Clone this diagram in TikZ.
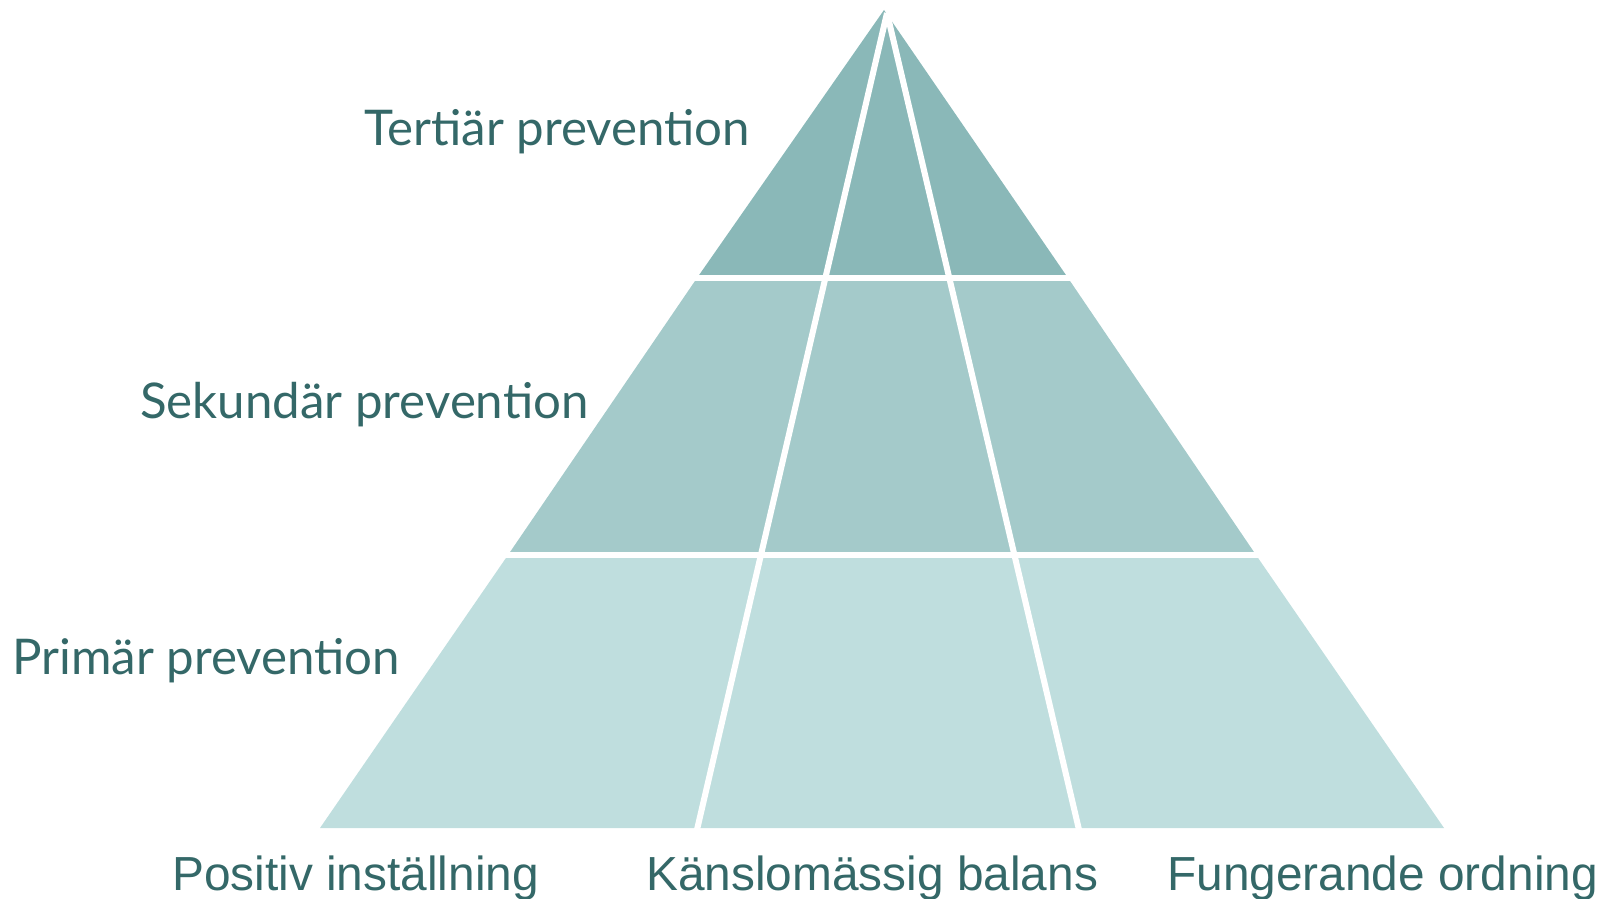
\documentclass[tikz,border=0pt]{standalone}
\usepackage{fontspec}
\setmainfont{Liberation Sans}
\newfontfamily\levelfont{Lato}
\usepackage{tikz}

\definecolor{topband}{RGB}{138,184,184}
\definecolor{midband}{RGB}{164,202,202}
\definecolor{lowband}{RGB}{191,222,222}
\definecolor{labelteal}{RGB}{52,104,104}

\begin{document}
\begin{tikzpicture}
    [
    x=0.025cm,y=-0.025cm,
    band/.style={draw=none},
    gap/.style={draw=white,line width=4.3pt},
    level/.style={anchor=base west,inner sep=0pt,text=labelteal,font=\levelfont\fontsize{35}{40}\selectfont},
    pillar/.style={anchor=base west,inner sep=0pt,text=labelteal,font=\fontsize{34}{38}\selectfont}
    ]
\useasboundingbox (0,0) rectangle (1608,899);
% pyramid corners
\coordinate (apex) at (884,10);
\coordinate (t1) at (697,278);
\coordinate (t2) at (1068,278);
\coordinate (m1) at (508,555);
\coordinate (m2) at (1256,555);
\coordinate (b1) at (320,828);
\coordinate (b2) at (1444,828);
% bands
\fill[band,topband] (apex) -- (t1) -- (t2) -- cycle;
\fill[band,midband] (t1) -- (m1) -- (m2) -- (t2) -- cycle;
\fill[band,lowband] (m1) -- (b1) -- (b2) -- (m2) -- cycle;
% white gaps
\coordinate (top) at (887,13);
\coordinate (d1) at (696,834);
\coordinate (d2) at (1080,834);
\draw[gap] (top) -- (d1);
\draw[gap] (top) -- (d2);
\draw[gap] ([xshift=-10]t1) -- ([xshift=10]t2);
\draw[gap] ([xshift=-10]m1) -- ([xshift=10]m2);
% labels
\node[level] (tert) at (364,146) {Tertiär prevention};
\node[level] (sek) at (140,418) {Sekundär prevention};
\node[level] (prim) at (12,674) {Primär prevention};
\node[pillar] (pos) at (172,890) {Positiv inställning};
\node[pillar] (kansla) at (646,890) {Känslomässig balans};
\node[pillar] (ordn) at (1167,890) {Fungerande ordning};
\end{tikzpicture}
\end{document}
